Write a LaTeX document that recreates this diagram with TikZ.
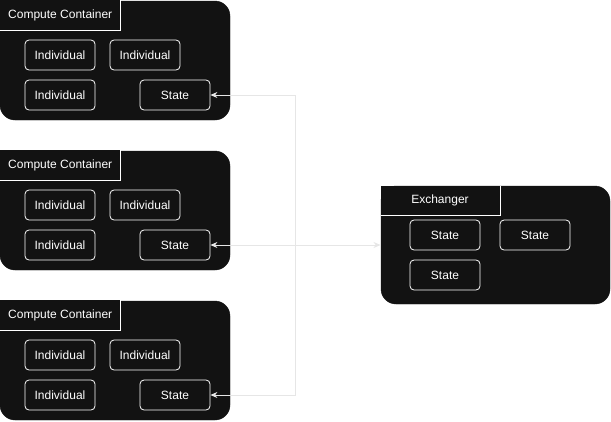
\documentclass[tikz,border=0pt]{standalone}
\usepackage{fontspec}
\setmainfont{Liberation Sans}
\usetikzlibrary{arrows.meta}
\definecolor{boxfill}{HTML}{121212}
\definecolor{linkgray}{HTML}{E6E6E6}
\begin{document}
\begin{tikzpicture}[x=1pt,y=-1pt,
  cont/.style={fill=boxfill,draw=boxfill,rounded corners=15pt},
  titleline/.style={draw=white,line width=0.8pt},
  item/.style={draw=white,fill=boxfill,rounded corners=4pt,line width=0.8pt,minimum width=70pt,minimum height=30pt,inner sep=0pt,text=white,font=\fontsize{12}{14}\selectfont},
  ttext/.style={text=white,font=\fontsize{12}{14}\selectfont,inner sep=0pt},
  link/.style={draw=linkgray,line width=0.8pt},
  tip/.style={-{Stealth[length=7pt,width=6pt]}}
]
\useasboundingbox (0,0) rectangle (611,421);
% containers
\foreach \i/\oy in {1/0,2/150,3/300}{
  \fill[cont] (0,1+\oy) rectangle (230,120+\oy);
  \fill[boxfill] (0,1+\oy) rectangle (20,20+\oy);
  \fill[boxfill] (0,\oy) rectangle (120,30+\oy);
  \draw[titleline] (0,30+\oy) -- (120,30+\oy) -- (120,\oy);
  \node[ttext,anchor=west] (t\i) at (8,15+\oy) {Compute Container};
  \node[item] (a\i) at (60,55+\oy) {Individual};
  \node[item] (b\i) at (145,55+\oy) {Individual};
  \node[item] (c\i) at (60,95+\oy) {Individual};
  \node[item] (s\i) at (175,95+\oy) {State};
}
% exchanger
\fill[cont] (381,186) rectangle (610,304);
\fill[boxfill] (381,186) rectangle (400,205);
\draw[titleline] (381,215) -- (500,215) -- (500,186);
\node[ttext] (te) at (440,200) {Exchanger};
\node[item] (e1) at (445,235) {State};
\node[item] (e2) at (535,235) {State};
\node[item] (e3) at (445,275) {State};
\coordinate (ex) at (380.5,245);
\coordinate (jn) at (295,245);
% connectors
\draw[link,{Stealth[length=7pt,width=6pt]}-{Stealth[length=7pt,width=6pt]}] (s2.east) -- (ex);
\draw[link,tip] (jn) |- (s1.east);
\draw[link,tip] (jn) |- (s3.east);
\end{tikzpicture}
\end{document}
